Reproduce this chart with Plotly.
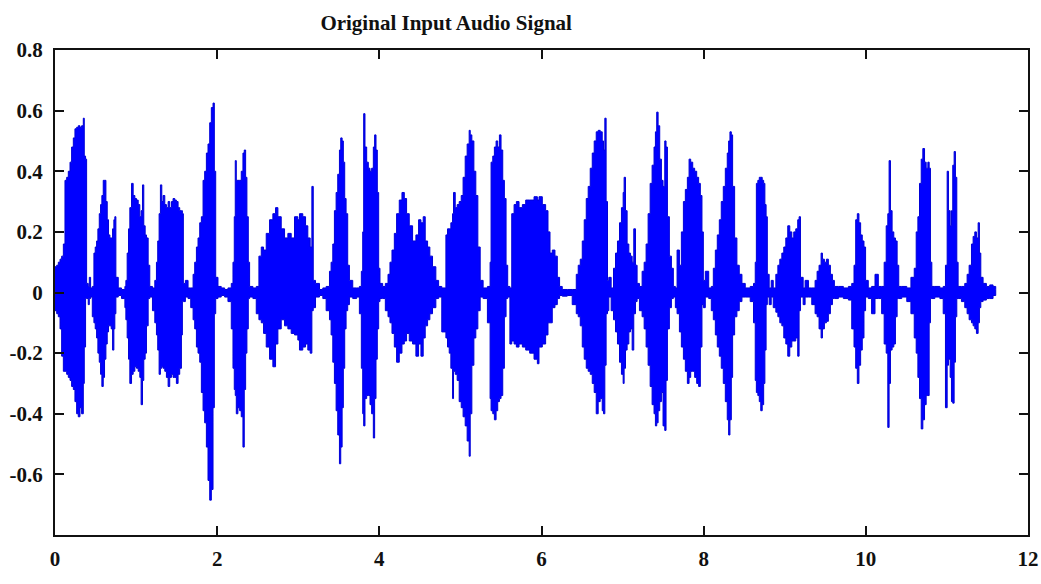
import plotly.graph_objects as go

# ---- data: envelope of the audio waveform (time in s, amplitude) ----
time_s = [
    0.000, 0.021, 0.041, 0.062, 0.082, 0.103, 0.123, 0.144, 0.164, 0.185, 0.205, 0.226, 0.246, 0.267, 0.287, 0.308, 0.328, 0.349, 0.361, 0.377, 0.390,
    0.410, 0.423, 0.439, 0.460,
    0.480, 0.496, 0.513, 0.529, 0.546, 0.562, 0.578, 0.595, 0.611, 0.628, 0.644, 0.660, 0.677, 0.693, 0.710, 0.726, 0.738, 0.751,
    0.780, 0.820,
    0.862, 0.874, 0.890, 0.907, 0.923, 0.944, 0.964, 0.985, 1.005, 1.026, 1.046, 1.062, 1.079, 1.095, 1.112, 1.128, 1.149, 1.169,
    1.202,
    1.231, 1.251, 1.267, 1.284, 1.300, 1.317, 1.333, 1.354, 1.374, 1.395, 1.415, 1.436, 1.456, 1.477, 1.497, 1.518, 1.538, 1.559, 1.571, 1.583,
    1.608, 1.641, 1.674,
    1.703, 1.723, 1.744, 1.764, 1.785, 1.805, 1.826, 1.846, 1.867, 1.887, 1.908, 1.928, 1.949, 1.965, 1.982,
    2.010, 2.050, 2.092, 2.133, 2.174,
    2.195, 2.211, 2.223, 2.236, 2.256, 2.277, 2.297, 2.318, 2.334, 2.351, 2.367, 2.384, 2.400,
    2.441, 2.482,
    2.515, 2.544, 2.572, 2.605, 2.646, 2.687, 2.720, 2.749, 2.790, 2.831, 2.872, 2.913, 2.954, 2.995, 3.015, 3.056, 3.090, 3.118, 3.147, 3.168, 3.185,
    3.213, 3.262, 3.303, 3.344,
    3.385, 3.405, 3.426, 3.446, 3.467, 3.487, 3.508, 3.524, 3.541, 3.556, 3.573, 3.590, 3.610, 3.631,
    3.672, 3.720, 3.754,
    3.778, 3.795, 3.807, 3.823, 3.844, 3.864, 3.885, 3.905, 3.926, 3.942, 3.959, 3.975, 3.992, 4.008,
    4.041, 4.074,
    4.107, 4.131, 4.156, 4.185, 4.213, 4.246, 4.279, 4.308, 4.336, 4.369, 4.410, 4.451, 4.484, 4.513, 4.541, 4.566, 4.595, 4.623, 4.656, 4.697, 4.731,
    4.770,
    4.821, 4.841, 4.862, 4.882, 4.903, 4.915, 4.936, 4.960, 4.985, 5.010, 5.033, 5.059, 5.083, 5.108, 5.121, 5.141, 5.166, 5.190, 5.215, 5.244,
    5.280, 5.333,
    5.366, 5.378, 5.399, 5.419, 5.440, 5.460, 5.481, 5.501, 5.522, 5.542, 5.563, 5.583,
    5.610,
    5.633, 5.662, 5.690, 5.723, 5.764, 5.805, 5.854, 5.908, 5.949, 5.969, 6.010, 6.051, 6.080, 6.105, 6.133, 6.166, 6.195, 6.223,
    6.256, 6.318, 6.379,
    6.429, 6.453, 6.478, 6.503, 6.527, 6.552, 6.576, 6.601, 6.626, 6.650, 6.675, 6.699, 6.724, 6.749, 6.765, 6.781, 6.797, 6.814,
    6.830, 6.859,
    6.888, 6.913, 6.937, 6.962, 6.986, 7.007, 7.019, 7.036, 7.056, 7.077, 7.097, 7.118, 7.138, 7.159, 7.179,
    7.208,
    7.241, 7.266, 7.290, 7.315, 7.340, 7.364, 7.388, 7.405, 7.421, 7.438, 7.458, 7.479, 7.499, 7.520, 7.536, 7.553, 7.577, 7.602, 7.626,
    7.651, 7.672,
    7.701, 7.725, 7.750, 7.774, 7.799, 7.820, 7.840, 7.865, 7.889, 7.914, 7.938, 7.959, 7.979, 7.996,
    8.020, 8.062, 8.094,
    8.119, 8.144, 8.168, 8.193, 8.217, 8.242, 8.267, 8.291, 8.308, 8.324, 8.341, 8.357, 8.382, 8.410, 8.439, 8.472,
    8.513, 8.574, 8.615,
    8.636, 8.650, 8.668, 8.686, 8.704, 8.722, 8.740, 8.755, 8.770, 8.785,
    8.808, 8.833, 8.858,
    8.890, 8.915, 8.939, 8.964, 8.988, 9.013, 9.037, 9.062, 9.087, 9.111, 9.136, 9.160, 9.177, 9.194,
    9.227, 9.251, 9.292, 9.333,
    9.374, 9.399, 9.423, 9.448, 9.465, 9.489, 9.514, 9.538, 9.563, 9.588, 9.612,
    9.662, 9.723, 9.785, 9.826,
    9.854, 9.875, 9.895, 9.915, 9.936, 9.956, 9.977, 9.997,
    10.030, 10.071, 10.113, 10.154, 10.195,
    10.226, 10.251, 10.271, 10.287, 10.304, 10.324, 10.345, 10.365, 10.386, 10.406,
    10.443, 10.505, 10.556,
    10.597, 10.621, 10.642, 10.662, 10.683, 10.703, 10.724, 10.744, 10.765, 10.781, 10.797, 10.814,
    10.851, 10.913, 10.954,
    10.982, 11.003, 11.019, 11.040, 11.056, 11.072, 11.089, 11.105, 11.122, 11.138,
    11.179, 11.220,
    11.249, 11.274, 11.303, 11.323, 11.344, 11.364, 11.385, 11.401, 11.418,
    11.446, 11.487, 11.528, 11.569, 11.602,
]

env_upper = [
    0.085, 0.09, 0.10, 0.11, 0.12, 0.16, 0.37, 0.38, 0.40, 0.43, 0.48, 0.51, 0.54, 0.545, 0.55, 0.545, 0.55, 0.575, 0.45, 0.44, 0.03,
    0.02, 0.05, 0.015, 0.02,
    0.13, 0.15, 0.17, 0.21, 0.26, 0.29, 0.32, 0.37, 0.37, 0.30, 0.24, 0.19, 0.18, 0.18, 0.21, 0.24, 0.25, 0.05,
    0.015, 0.01,
    0.02, 0.04, 0.13, 0.21, 0.28, 0.36, 0.32, 0.31, 0.305, 0.29, 0.25, 0.27, 0.355, 0.22, 0.19, 0.18, 0.09, 0.02,
    0.015,
    0.04, 0.10, 0.17, 0.26, 0.355, 0.30, 0.32, 0.29, 0.28, 0.30, 0.28, 0.30, 0.31, 0.305, 0.30, 0.28, 0.27, 0.27, 0.26, 0.03,
    0.04, 0.015, 0.015,
    0.06, 0.10, 0.15, 0.18, 0.23, 0.25, 0.37, 0.40, 0.46, 0.49, 0.56, 0.61, 0.625, 0.40, 0.05,
    0.02, 0.015, 0.01, 0.015, 0.03,
    0.10, 0.25, 0.435, 0.37, 0.37, 0.37, 0.40, 0.46, 0.47, 0.38, 0.25, 0.10, 0.02,
    0.015, 0.02,
    0.12, 0.15, 0.14, 0.195, 0.24, 0.26, 0.28, 0.25, 0.21, 0.18, 0.195, 0.18, 0.25, 0.24, 0.26, 0.25, 0.22, 0.18, 0.15, 0.35, 0.04,
    0.03, 0.01, 0.015, 0.02,
    0.07, 0.10, 0.16, 0.27, 0.33, 0.39, 0.47, 0.51, 0.50, 0.43, 0.31, 0.26, 0.09, 0.04,
    0.015, 0.015, 0.02,
    0.07, 0.20, 0.59, 0.48, 0.43, 0.41, 0.40, 0.41, 0.48, 0.52, 0.47, 0.33, 0.08, 0.03,
    0.02, 0.03,
    0.06, 0.10, 0.14, 0.195, 0.26, 0.305, 0.33, 0.31, 0.26, 0.22, 0.17, 0.19, 0.24, 0.23, 0.25, 0.17, 0.15, 0.12, 0.085, 0.04, 0.02,
    0.015,
    0.19, 0.21, 0.21, 0.23, 0.26, 0.33, 0.28, 0.29, 0.30, 0.32, 0.38, 0.45, 0.49, 0.535, 0.52, 0.50, 0.40, 0.32, 0.15, 0.04,
    0.015, 0.02,
    0.10, 0.43, 0.45, 0.48, 0.50, 0.48, 0.52, 0.47, 0.37, 0.31, 0.09, 0.02,
    0.015,
    0.26, 0.29, 0.30, 0.28, 0.29, 0.305, 0.305, 0.316, 0.305, 0.316, 0.29, 0.27, 0.20, 0.13, 0.14, 0.12, 0.05, 0.02,
    0.01, 0.01, 0.01,
    0.06, 0.09, 0.11, 0.17, 0.24, 0.31, 0.35, 0.41, 0.46, 0.50, 0.53, 0.535, 0.53, 0.50, 0.47, 0.575, 0.30, 0.04,
    0.05, 0.015,
    0.08, 0.13, 0.17, 0.23, 0.28, 0.33, 0.38, 0.27, 0.16, 0.13, 0.12, 0.10, 0.21, 0.09, 0.03,
    0.02,
    0.07, 0.10, 0.16, 0.26, 0.36, 0.42, 0.48, 0.53, 0.595, 0.55, 0.44, 0.37, 0.35, 0.50, 0.48, 0.25, 0.12, 0.08, 0.02,
    0.015, 0.14,
    0.09, 0.20, 0.30, 0.34, 0.38, 0.44, 0.43, 0.41, 0.40, 0.38, 0.36, 0.32, 0.20, 0.04,
    0.07, 0.015, 0.02,
    0.08, 0.14, 0.19, 0.24, 0.30, 0.35, 0.41, 0.46, 0.50, 0.53, 0.52, 0.35, 0.18, 0.09, 0.06, 0.03,
    0.015, 0.02, 0.03,
    0.10, 0.36, 0.37, 0.38, 0.38, 0.37, 0.36, 0.29, 0.25, 0.06,
    0.015, 0.04, 0.015,
    0.06, 0.09, 0.11, 0.13, 0.15, 0.18, 0.22, 0.20, 0.18, 0.20, 0.21, 0.24, 0.25, 0.05,
    0.015, 0.04, 0.015, 0.015,
    0.04, 0.07, 0.09, 0.13, 0.11, 0.10, 0.11, 0.09, 0.06, 0.04, 0.02,
    0.02, 0.015, 0.02, 0.03,
    0.09, 0.24, 0.26, 0.23, 0.19, 0.17, 0.15, 0.04,
    0.015, 0.02, 0.06, 0.02, 0.02,
    0.10, 0.22, 0.26, 0.435, 0.27, 0.20, 0.18, 0.17, 0.09, 0.02,
    0.02, 0.015, 0.05,
    0.08, 0.20, 0.25, 0.36, 0.44, 0.475, 0.43, 0.41, 0.43, 0.41, 0.10, 0.02,
    0.02, 0.015, 0.02,
    0.09, 0.40, 0.27, 0.22, 0.27, 0.42, 0.465, 0.38, 0.10, 0.02,
    0.02, 0.03,
    0.06, 0.09, 0.16, 0.185, 0.20, 0.18, 0.23, 0.13, 0.05,
    0.03, 0.02, 0.025, 0.02, 0.01,
]

env_lower = [
    -0.058, -0.06, -0.07, -0.08, -0.12, -0.21, -0.26, -0.26, -0.27, -0.28, -0.29, -0.31, -0.32, -0.36, -0.40, -0.41, -0.38, -0.40, -0.30, -0.18, -0.02,
    -0.02, -0.04, -0.02, -0.015,
    -0.08, -0.10, -0.12, -0.15, -0.20, -0.23, -0.27, -0.31, -0.28, -0.22, -0.17, -0.13, -0.11, -0.11, -0.12, -0.19, -0.12, -0.07,
    -0.015, -0.01,
    -0.02, -0.05, -0.09, -0.15, -0.22, -0.30, -0.27, -0.26, -0.245, -0.25, -0.26, -0.28, -0.37, -0.29, -0.22, -0.20, -0.11, -0.02,
    -0.015,
    -0.06, -0.10, -0.14, -0.19, -0.27, -0.25, -0.245, -0.25, -0.26, -0.28, -0.31, -0.28, -0.27, -0.28, -0.28, -0.30, -0.27, -0.25, -0.14, -0.03,
    -0.03, -0.015, -0.02,
    -0.05, -0.09, -0.12, -0.18, -0.20, -0.23, -0.33, -0.39, -0.43, -0.51, -0.62, -0.685, -0.65, -0.38, -0.07,
    -0.02, -0.015, -0.01, -0.015, -0.03,
    -0.12, -0.25, -0.32, -0.34, -0.40, -0.38, -0.39, -0.41, -0.51, -0.32, -0.20, -0.12, -0.02,
    -0.015, -0.02,
    -0.07, -0.09, -0.10, -0.135, -0.18, -0.22, -0.245, -0.17, -0.12, -0.09, -0.11, -0.12, -0.135, -0.14, -0.157, -0.19, -0.18, -0.17, -0.19, -0.20, -0.06,
    -0.05, -0.015, -0.01, -0.02,
    -0.06, -0.09, -0.14, -0.23, -0.30, -0.39, -0.47, -0.565, -0.51, -0.38, -0.25, -0.12, -0.06, -0.04,
    -0.015, -0.02, -0.015,
    -0.07, -0.25, -0.40, -0.44, -0.35, -0.34, -0.34, -0.37, -0.40, -0.48, -0.35, -0.22, -0.12, -0.03,
    -0.02, -0.02,
    -0.06, -0.08, -0.10, -0.135, -0.18, -0.23, -0.20, -0.17, -0.16, -0.135, -0.16, -0.17, -0.21, -0.17, -0.21, -0.15, -0.11, -0.09, -0.07, -0.05, -0.02,
    -0.015,
    -0.13, -0.15, -0.18, -0.20, -0.25, -0.35, -0.26, -0.27, -0.29, -0.36, -0.38, -0.41, -0.44, -0.49, -0.54, -0.40, -0.24, -0.15, -0.12, -0.06,
    -0.015, -0.02,
    -0.10, -0.35, -0.39, -0.40, -0.42, -0.39, -0.36, -0.35, -0.34, -0.25, -0.08, -0.02,
    -0.015,
    -0.17, -0.16, -0.17, -0.18, -0.17, -0.18, -0.19, -0.20, -0.22, -0.235, -0.18, -0.17, -0.14, -0.10, -0.10, -0.05, -0.04, -0.02,
    -0.01, -0.012, -0.01,
    -0.04, -0.07, -0.08, -0.11, -0.18, -0.22, -0.25, -0.26, -0.27, -0.30, -0.33, -0.40, -0.36, -0.35, -0.39, -0.40, -0.24, -0.07,
    -0.06, -0.015,
    -0.06, -0.09, -0.13, -0.17, -0.23, -0.27, -0.30, -0.25, -0.19, -0.17, -0.13, -0.12, -0.19, -0.07, -0.03,
    -0.02,
    -0.06, -0.08, -0.12, -0.18, -0.24, -0.31, -0.37, -0.40, -0.44, -0.43, -0.39, -0.36, -0.33, -0.44, -0.455, -0.29, -0.12, -0.05, -0.02,
    -0.015, -0.05,
    -0.07, -0.13, -0.18, -0.22, -0.26, -0.30, -0.28, -0.26, -0.26, -0.28, -0.30, -0.31, -0.18, -0.04,
    -0.05, -0.015, -0.02,
    -0.06, -0.09, -0.14, -0.18, -0.21, -0.25, -0.30, -0.36, -0.42, -0.47, -0.42, -0.28, -0.14, -0.08, -0.06, -0.03,
    -0.015, -0.015, -0.03,
    -0.10, -0.29, -0.33, -0.34, -0.36, -0.39, -0.37, -0.30, -0.19, -0.04,
    -0.015, -0.04, -0.015,
    -0.05, -0.065, -0.08, -0.10, -0.11, -0.15, -0.17, -0.21, -0.18, -0.16, -0.16, -0.15, -0.21, -0.06,
    -0.015, -0.04, -0.015, -0.015,
    -0.04, -0.07, -0.08, -0.12, -0.15, -0.12, -0.10, -0.095, -0.07, -0.04, -0.02,
    -0.02, -0.015, -0.02, -0.025,
    -0.12, -0.18, -0.25, -0.30, -0.24, -0.19, -0.15, -0.06,
    -0.015, -0.02, -0.07, -0.02, -0.02,
    -0.07, -0.17, -0.20, -0.445, -0.30, -0.19, -0.18, -0.17, -0.08, -0.02,
    -0.02, -0.015, -0.03,
    -0.07, -0.15, -0.20, -0.28, -0.35, -0.45, -0.42, -0.37, -0.34, -0.34, -0.10, -0.02,
    -0.02, -0.015, -0.02,
    -0.07, -0.38, -0.24, -0.22, -0.28, -0.36, -0.365, -0.23, -0.08, -0.02,
    -0.02, -0.03,
    -0.05, -0.07, -0.09, -0.10, -0.11, -0.12, -0.135, -0.10, -0.05,
    -0.03, -0.025, -0.02, -0.02, -0.01,
]

x_tick_vals = [0, 2, 4, 6, 8, 10, 12]
x_tick_text = ["0", "2", "4", "6", "8", "10", "12"]
y_tick_vals = [0.8, 0.6, 0.4, 0.2, 0, -0.2, -0.4, -0.6]
y_tick_text = ["0.8", "0.6", "0.4", "0.2", "0", "-0.2", "-0.4", "-0.6"]

assert len(time_s) == len(env_upper) == len(env_lower)

poly_x = time_s + time_s[::-1]
poly_y = env_upper + env_lower[::-1]

SERIF = "Liberation Serif, Times New Roman, serif"

fig = go.Figure()
fig.add_trace(go.Scatter(
    x=poly_x, y=poly_y, mode="lines", fill="toself",
    fillcolor="#0000FF", line=dict(color="#0000D8", width=1, shape="hv"),
    hoverinfo="skip", showlegend=False,
))

axis_common = dict(
    showline=True, linecolor="#111111", linewidth=2, mirror="ticks",
    ticks="inside", ticklen=9, tickwidth=1.5, tickcolor="#111111",
    showgrid=False, zeroline=False, automargin=False,
    tickfont=dict(family=SERIF, size=21, color="#111111", weight="bold"),
)

fig.update_xaxes(range=[0, 12], tickvals=x_tick_vals, ticktext=x_tick_text,
                 ticklabelstandoff=4, **axis_common)
fig.update_yaxes(range=[-0.8, 0.8], tickvals=y_tick_vals, ticktext=y_tick_text,
                 ticklabelstandoff=6, **axis_common)

fig.update_layout(
    width=1041, height=584,
    margin=dict(l=55, r=13, t=50, b=49),
    paper_bgcolor="white", plot_bgcolor="white",
    title=dict(text="Original Input Audio Signal", xref="paper", x=0.402, xanchor="center",
               yref="container", y=0.962, yanchor="middle", automargin=False,
               font=dict(family=SERIF, size=21, color="#111111", weight="bold")),
)

fig.write_html(
    "out.html",
    config={"displayModeBar": False},
    post_script="document.body.style.margin='0';document.body.style.overflow='hidden';",
)
